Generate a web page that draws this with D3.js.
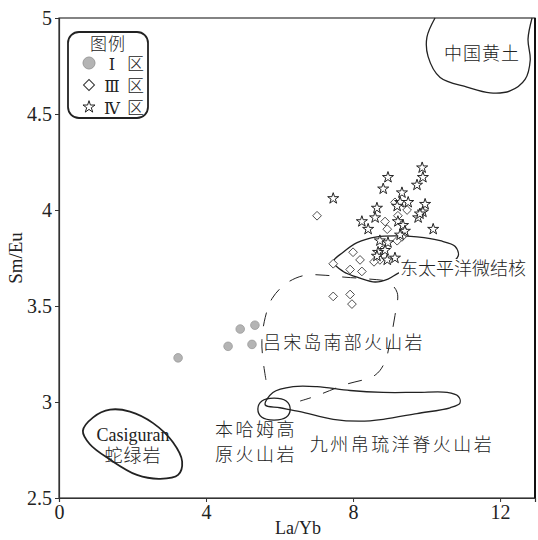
<!DOCTYPE html>
<html>
<head>
<meta charset="utf-8">
<script src="https://cdn.jsdelivr.net/npm/d3@7.9.0/dist/d3.min.js"></script>
<style>
  body { margin: 0; background: #fff; }
  svg { display: block; }
  text { font-family: "Liberation Serif", "Noto Sans CJK SC", serif; fill: #222; }
  .cjk { font-family: "Liberation Serif", "Noto Sans CJK SC", sans-serif; font-weight: 300; }
  .roman { font-family: "DejaVu Serif", "Liberation Serif", serif; }
</style>
</head>
<body>
<svg id="chart" width="538" height="540"></svg>
<script>
// data: [La/Yb, Sm/Eu]
const zone1 = [[3.24, 3.23], [4.60, 3.29], [4.93, 3.38], [5.33, 3.40], [5.25, 3.30]];

const zone3 = [
  [7.02, 3.97], [9.14, 4.04], [9.47, 4.00], [8.87, 3.94], [8.93, 3.90], [9.22, 3.97],
  [9.20, 3.84], [9.33, 3.86], [8.79, 3.79], [8.73, 3.74], [7.46, 3.72], [8.00, 3.78],
  [8.19, 3.74], [7.92, 3.69], [8.24, 3.68], [7.46, 3.55], [7.92, 3.56], [7.97, 3.51],
  [8.57, 3.73]
];

const zone4 = [
  [7.46, 4.06], [8.95, 4.17], [8.82, 4.11], [9.88, 4.22], [9.90, 4.17], [9.74, 4.13],
  [9.33, 4.09], [9.28, 4.04], [9.50, 4.04], [9.20, 4.02], [9.96, 4.03], [9.90, 3.99],
  [9.77, 3.96], [9.82, 3.98], [8.65, 4.01], [8.60, 3.96], [8.24, 3.94], [8.41, 3.90],
  [10.18, 3.90], [9.22, 3.94], [9.36, 3.92], [9.41, 3.89], [9.28, 3.87], [8.73, 3.84],
  [8.95, 3.83], [8.87, 3.79], [8.68, 3.78], [8.65, 3.76], [8.93, 3.74], [9.14, 3.75]
];

// field outlines
const loess = [
  [10.23, 5.0], [10.01, 4.90], [10.04, 4.80], [10.37, 4.69], [11.10, 4.64], [11.73, 4.61],
  [12.27, 4.62], [12.68, 4.68], [12.82, 4.78], [12.76, 4.89], [12.87, 5.0]
];
const casiguran = [
  [0.65, 2.85], [0.93, 2.92], [1.39, 2.96], [1.93, 2.95], [2.56, 2.89], [3.10, 2.79],
  [3.35, 2.69], [3.24, 2.62], [2.75, 2.60], [2.12, 2.62], [1.39, 2.70], [0.84, 2.78]
];
const benham = [
  [5.41, 2.964], [5.52, 3.005], [5.85, 3.02], [6.18, 3.005],
  [6.29, 2.964], [6.18, 2.92], [5.85, 2.906], [5.52, 2.92]
];
const kyushuPalau = [
  [5.61, 2.985], [5.82, 3.05], [6.37, 3.08], [7.02, 3.08], [7.92, 3.06], [8.82, 3.05],
  [9.74, 3.05], [10.56, 3.05], [10.86, 3.03], [10.91, 2.995], [10.64, 2.97], [9.74, 2.94],
  [8.82, 2.91], [8.19, 2.90], [7.46, 2.91], [6.56, 2.95], [6.01, 2.97]
];
const eastPacific = [
  [7.46, 3.73], [7.73, 3.78], [8.11, 3.83], [8.65, 3.86], [9.20, 3.865], [9.74, 3.86],
  [10.37, 3.84], [10.78, 3.81], [10.86, 3.76], [10.50, 3.71], [9.55, 3.70], [9.22, 3.67],
  [8.95, 3.64], [8.60, 3.625], [8.19, 3.645], [7.73, 3.68]
];
const luzon = [
  [5.63, 3.115], [5.55, 3.22], [5.52, 3.32], [5.61, 3.44], [5.80, 3.54], [6.20, 3.62],
  [6.69, 3.66], [7.24, 3.66], [7.78, 3.65], [8.46, 3.64], [8.95, 3.625], [9.20, 3.57],
  [9.14, 3.45], [9.01, 3.32], [8.87, 3.21], [8.60, 3.14], [7.78, 3.09], [6.97, 3.03],
  [6.56, 3.005]
];

const xTicks = [0, 4, 8, 12];
const yTicks = [2.5, 3, 3.5, 4, 4.5, 5];

const svg = d3.select('#chart');
const x = d3.scaleLinear().domain([0, 12.95]).range([59, 535]);
const y = d3.scaleLinear().domain([2.5, 5]).range([498, 18]);

const closed = d3.line().x(d => x(d[0])).y(d => y(d[1])).curve(d3.curveCatmullRomClosed.alpha(0.5));
const open = d3.line().x(d => x(d[0])).y(d => y(d[1])).curve(d3.curveCatmullRom.alpha(0.5));

// frame
svg.append('rect')
  .attr('x', 59).attr('y', 18).attr('width', 476).attr('height', 480)
  .attr('fill', 'none').attr('stroke', '#333').attr('stroke-width', 1.2);
svg.append('line')
  .attr('x1', 535).attr('x2', 535).attr('y1', 18).attr('y2', 498)
  .attr('stroke', '#111').attr('stroke-width', 2);

// axes
const xAxis = svg.append('g').attr('transform', 'translate(0,498)')
  .call(d3.axisBottom(x).tickValues(xTicks).tickSize(4).tickPadding(3).tickFormat(d3.format('d')));
const yAxis = svg.append('g').attr('transform', 'translate(59,0)')
  .call(d3.axisLeft(y).tickValues(yTicks).tickSize(4).tickPadding(3).tickFormat(d => String(d)));
[xAxis, yAxis].forEach(g => {
  g.select('.domain').attr('stroke', '#333').attr('stroke-width', 1.2);
  g.selectAll('.tick line').attr('stroke', '#333');
  g.selectAll('.tick text').style('font-family', '"Liberation Serif", serif').style('font-size', '20px').attr('fill', '#222');
});

svg.append('text').attr('x', 298).attr('y', 534).attr('text-anchor', 'middle')
  .style('font-size', '18px').text('La/Yb');
svg.append('text').attr('transform', 'translate(22,258) rotate(-90)').attr('text-anchor', 'middle')
  .style('font-size', '19px').text('Sm/Eu');

// field outlines
const outline = (pts, gen, dash) => svg.append('path')
  .attr('d', gen(pts)).attr('fill', 'none').attr('stroke', '#222').attr('stroke-width', 1.3)
  .attr('stroke-dasharray', dash || null);

outline(loess, open);
outline(casiguran, closed).attr('stroke-width', 1.8);
outline(kyushuPalau, closed);
outline(benham, closed);
outline(luzon, open, '14,13').attr('stroke-width', 1);
outline(eastPacific, closed);

// points
svg.append('g').selectAll('circle').data(zone1).join('circle')
  .attr('cx', d => x(d[0])).attr('cy', d => y(d[1])).attr('r', 4.3)
  .attr('fill', '#b4b4b4').attr('stroke', '#9a9a9a').attr('stroke-width', 0.8);

const diamond = d3.symbol().type(d3.symbolSquare).size(38);
svg.append('g').selectAll('path').data(zone3).join('path')
  .attr('d', diamond)
  .attr('transform', d => `translate(${x(d[0])},${y(d[1])}) rotate(45)`)
  .attr('fill', '#fff').attr('stroke', '#444').attr('stroke-width', 0.9);

const star = d3.symbol().type(d3.symbolStar).size(38);
svg.append('g').selectAll('path').data(zone4).join('path')
  .attr('d', star)
  .attr('transform', d => `translate(${x(d[0])},${y(d[1])})`)
  .attr('fill', '#fff').attr('stroke', '#222').attr('stroke-width', 1);

// field labels
const label = (tx, ty, str, size, anchor) => svg.append('text')
  .attr('class', 'cjk').attr('x', tx).attr('y', ty).style('font-size', (size || 18) + 'px')
  .attr('text-anchor', anchor || 'start').text(str);

svg.append('rect').attr('x', 399).attr('y', 259).attr('width', 128).attr('height', 20).attr('fill', '#fff');
label(400, 275, '东太平洋微结核', 18);
label(482, 60, '中国黄土', 18, 'middle').attr('letter-spacing', 1);
label(263, 349, '吕宋岛南部火山岩', 18).attr('letter-spacing', 2.2);
label(256, 436, '本哈姆高', 18, 'middle').attr('letter-spacing', 2.5);
label(256, 461, '原火山岩', 18, 'middle').attr('letter-spacing', 2.5);
label(402, 451, '九州帛琉洋脊火山岩', 18, 'middle').attr('letter-spacing', 2.5);
label(133, 441, 'Casiguran', 18, 'middle');
label(133, 462, '蛇绿岩', 18, 'middle').attr('letter-spacing', 1);

// legend
const lg = svg.append('g');
lg.append('rect').attr('x', 68).attr('y', 32).attr('width', 80).attr('height', 86)
  .attr('rx', 11).attr('fill', '#fff').attr('stroke', '#222').attr('stroke-width', 1.8);
lg.append('text').attr('class', 'cjk').attr('x', 108).attr('y', 50).attr('text-anchor', 'middle')
  .style('font-size', '17px').attr('letter-spacing', 1).text('图例');
lg.append('circle').attr('cx', 89).attr('cy', 63).attr('r', 6)
  .attr('fill', '#b4b4b4').attr('stroke', '#9a9a9a');
lg.append('path').attr('d', d3.symbol().type(d3.symbolSquare).size(60))
  .attr('transform', 'translate(89,85) rotate(45)').attr('fill', '#fff').attr('stroke', '#333');
lg.append('path').attr('d', d3.symbol().type(d3.symbolStar).size(45))
  .attr('transform', 'translate(89,107)').attr('fill', '#fff').attr('stroke', '#222');
const legendNumerals = ['Ⅰ', 'Ⅲ', 'Ⅳ'];
legendNumerals.forEach((n, i) => {
  lg.append('text').attr('class', 'roman').attr('x', 112).attr('y', 70 + i * 22)
    .attr('text-anchor', 'middle').style('font-size', '16px').text(n);
  lg.append('text').attr('class', 'cjk').attr('x', 127).attr('y', 70 + i * 22)
    .style('font-size', '17px').text('区');
});
</script>
</body>
</html>
